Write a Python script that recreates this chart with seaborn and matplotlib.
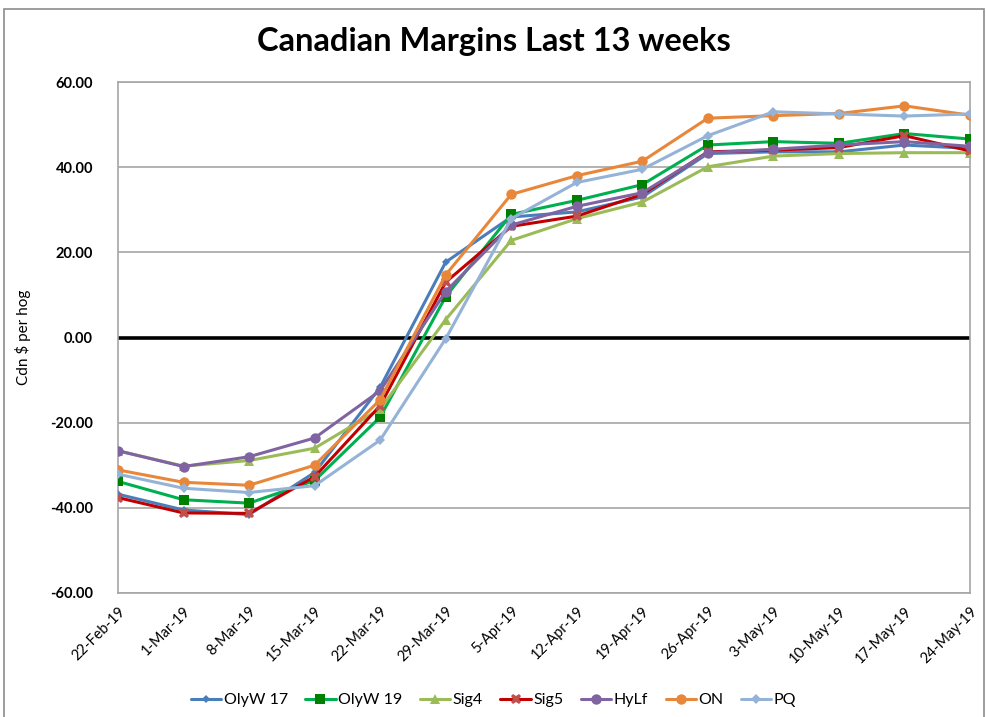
import pandas as pd
import seaborn as sns
import matplotlib.pyplot as plt
from matplotlib.patches import Rectangle

# Weekly dates (x axis)
weeks = ["22-Feb-19", "1-Mar-19", "8-Mar-19", "15-Mar-19", "22-Mar-19", "29-Mar-19",
         "5-Apr-19", "12-Apr-19", "19-Apr-19", "26-Apr-19", "3-May-19", "10-May-19",
         "17-May-19", "24-May-19"]

# Margins per series (Cdn $ per hog)
olyw17 = [-36.8, -40.5, -41.6, -31.7, -11.7, 17.7, 28.3, 29.5, 33.0, 43.2, 43.6, 43.6, 45.2, 44.4]
olyw19 = [-33.8, -38.1, -38.9, -33.6, -18.7, 9.6, 28.9, 32.2, 35.9, 45.2, 46.0, 45.6, 47.9, 46.6]
sig4 = [-26.6, -30.2, -28.9, -26.0, -16.8, 4.2, 22.8, 27.9, 31.8, 40.1, 42.6, 43.2, 43.4, 43.4]
sig5 = [-37.6, -41.2, -41.3, -32.7, -16.0, 13.0, 26.1, 28.5, 33.6, 43.6, 44.0, 44.6, 47.4, 43.8]
hylf = [-26.6, -30.3, -28.0, -23.6, -12.5, 10.8, 26.4, 30.8, 34.0, 43.4, 44.2, 45.2, 46.0, 44.9]
on = [-31.1, -34.0, -34.7, -30.0, -14.6, 14.7, 33.6, 38.0, 41.4, 51.5, 52.1, 52.6, 54.4, 52.2]
pq = [-32.1, -35.4, -36.4, -34.8, -24.1, -0.3, 27.9, 36.4, 39.5, 47.4, 53.0, 52.5, 52.0, 52.5]

series = ["OlyW 17", "OlyW 19", "Sig4", "Sig5", "HyLf", "ON", "PQ"]
values = [olyw17, olyw19, sig4, sig5, hylf, on, pq]

df = pd.DataFrame({
    "Week": weeks * len(series),
    "Series": [s for s in series for _ in weeks],
    "Margin": [v for vals in values for v in vals],
})

colors = {
    "OlyW 17": "#4A7EBB",
    "OlyW 19": "#00B050",
    "Sig4": "#9BBB59",
    "Sig5": "#C00000",
    "HyLf": "#8064A2",
    "ON": "#E8873A",
    "PQ": "#95B3D7",
}
markers = {
    "OlyW 17": "D",
    "OlyW 19": "s",
    "Sig4": "^",
    "Sig5": "X",
    "HyLf": "o",
    "ON": "o",
    "PQ": "D",
}
msize = {"OlyW 17": 4, "OlyW 19": 7, "Sig4": 7, "Sig5": 7.5, "HyLf": 7.5, "ON": 7.5, "PQ": 5}
dark_marker = {"OlyW 19": "#008000", "Sig5": "#C0504D"}

sns.set_style("white")
plt.rcParams["font.family"] = ["Lato", "DejaVu Sans"]
plt.rcParams["text.color"] = "black"
plt.rcParams["axes.labelcolor"] = "black"
plt.rcParams["xtick.color"] = "black"
plt.rcParams["ytick.color"] = "black"

fig = plt.figure(figsize=(9.87, 7.17), dpi=100)
ax = fig.add_axes([118 / 987, 1 - 593 / 717, (970 - 118) / 987, (593 - 82) / 717])

# outer chart frame
fig.patches.append(Rectangle((4 / 987, -0.01), 980 / 987, 1 - 9 / 717 + 0.01,
                             transform=fig.transFigure, fill=False,
                             edgecolor="#8c8c8c", linewidth=1.2))

for yv in range(-60, 61, 20):
    if yv != 0:
        ax.axhline(yv, color="#a6a6a6", linewidth=1.2, zorder=0)
ax.axhline(0, color="black", linewidth=2.6, zorder=1)

sns.lineplot(data=df, x="Week", y="Margin", hue="Series", style="Series",
             palette=colors, markers=markers, dashes=False, linewidth=2.2,
             markeredgewidth=0, sort=False, ax=ax, legend=False, zorder=3)

# per-series marker sizes and marker colours
for line, name in zip(ax.get_lines()[7:], series):
    line.set_markersize(msize[name])
    if name in dark_marker:
        line.set_markerfacecolor(dark_marker[name])
        line.set_markeredgecolor(dark_marker[name])

ax.set_xlim(0, len(weeks) - 1)
ax.set_ylim(-60, 60)
ax.set_yticks(range(-60, 61, 20))
ax.set_yticklabels([f"{v:.2f}" for v in range(-60, 61, 20)], fontsize=10.5, fontweight="bold")
ax.set_xticks(range(len(weeks)))
ax.set_xticklabels(weeks, rotation=45, ha="right", rotation_mode="anchor", fontsize=10.5)
ax.tick_params(axis="x", pad=8, length=0)
ax.tick_params(axis="y", pad=18, length=0)
ax.set_xlabel("")
ax.set_ylabel("Cdn $ per hog", fontsize=11, labelpad=14)
for side in ["left", "right", "top", "bottom"]:
    ax.spines[side].set_color("#a6a6a6")
    ax.spines[side].set_linewidth(1.2)

fig.suptitle("Canadian Margins Last 13 weeks", y=1 - 42 / 717, va="center",
             fontsize=23.5, fontweight="bold")

# legend built from the plotted series styles
handles = []
for name in series:
    h, = ax.plot([], [], color=colors[name], marker=markers[name],
                 markersize=msize[name], markeredgewidth=0, linewidth=2.2,
                 markerfacecolor=dark_marker.get(name, colors[name]))
    handles.append(h)
fig.legend(handles, series, loc="center", bbox_to_anchor=(0.5, 1 - 700 / 717),
           ncol=7, frameon=False, fontsize=11.5, handlelength=1.9,
           handletextpad=0.15, columnspacing=1.1)

plt.savefig("out.png", dpi=100)
